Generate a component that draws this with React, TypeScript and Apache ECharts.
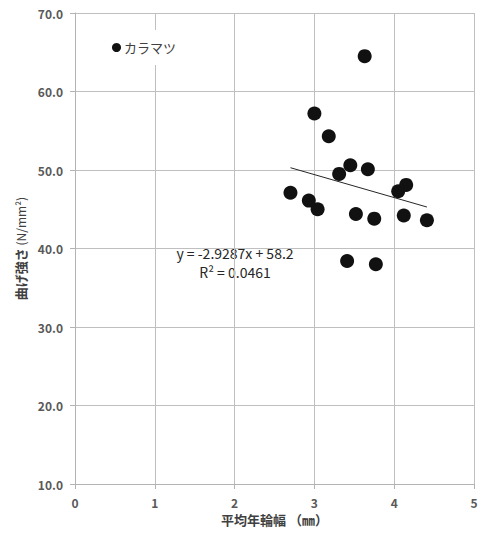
import React, { useEffect, useRef } from "react";
import * as echarts from "echarts";

// 平均年輪幅 (mm) と 曲げ強さ (N/mm²) — カラマツ
const ringWidth = [3.63, 3.0, 3.18, 3.45, 3.67, 3.31, 2.7, 2.93, 3.04, 4.15, 4.05, 3.52, 3.75, 4.12, 4.41, 3.41, 3.77];
const strength = [64.5, 57.2, 54.3, 50.6, 50.1, 49.5, 47.1, 46.1, 45.0, 48.1, 47.3, 44.4, 43.8, 44.2, 43.6, 38.4, 38.0];

// 線形近似
const slope = -2.9287;
const intercept = 58.2;
const rSquared = 0.0461;

const xTicks = [0, 1, 2, 3, 4, 5];
const yTicks = [10, 20, 30, 40, 50, 60, 70];

const FONT = "'Noto Sans CJK JP', 'Noto Sans', sans-serif";

export default function App() {
  const ref = useRef<HTMLDivElement>(null);

  useEffect(() => {
    document.body.style.margin = "0";
    const chart = echarts.init(ref.current!, null, { renderer: "svg" });

    const points = ringWidth.map((x, i) => [x, strength[i]]);
    const xMin = Math.min(...ringWidth);
    const xMax = Math.max(...ringWidth);
    const trend = [
      [xMin, slope * xMin + intercept],
      [xMax, slope * xMax + intercept],
    ];

    chart.setOption({
      animation: false,
      backgroundColor: "#ffffff",
      textStyle: { fontFamily: FONT },
      grid: { left: 75, right: 7, top: 13, bottom: 49, outerBoundsMode: "none", containLabel: false },
      legend: {
        data: [{ name: "カラマツ", icon: "circle" }],
        left: 104,
        top: 30,
        itemWidth: 9,
        itemHeight: 9,
        itemGap: 4,
        padding: [11, 8, 11, 8],
        backgroundColor: "#ffffff",
        textStyle: { fontFamily: FONT, fontSize: 13, color: "#404040", padding: [0, 0, 0, -2] },
      },
      xAxis: {
        type: "value",
        min: xTicks[0],
        max: xTicks[xTicks.length - 1],
        interval: 1,
        name: "平均年輪幅 （㎜）",
        nameLocation: "middle",
        nameGap: 29,
        nameTextStyle: { fontFamily: FONT, fontSize: 13, fontWeight: "bold", color: "#404040" },
        axisLine: { show: true, lineStyle: { color: "#b3b3b3", width: 1 } },
        axisTick: { show: true, inside: false, length: 5, lineStyle: { color: "#b3b3b3" } },
        axisLabel: { fontFamily: FONT, fontSize: 12, fontWeight: "bold", color: "#595959", margin: 12 },
        splitLine: { show: true, lineStyle: { color: "#bfbfbf", width: 1 } },
      },
      yAxis: {
        type: "value",
        min: yTicks[0],
        max: yTicks[yTicks.length - 1],
        interval: 10,
        name: "{b|曲げ強さ} {n|(N/mm²)}",
        nameLocation: "middle",
        nameGap: 40,
        nameRotate: 90,
        nameTextStyle: {
          fontFamily: FONT,
          color: "#404040",
          rich: {
            b: { fontFamily: FONT, fontSize: 13, fontWeight: "bold", color: "#404040" },
            n: { fontFamily: FONT, fontSize: 12, color: "#404040" },
          },
        },
        axisLine: { show: true, lineStyle: { color: "#b3b3b3", width: 1 } },
        axisTick: { show: true, inside: false, length: 5, lineStyle: { color: "#b3b3b3" } },
        axisLabel: {
          fontFamily: FONT,
          fontSize: 12,
          fontWeight: "bold",
          color: "#595959",
          margin: 12,
          formatter: (v: number) => v.toFixed(1),
        },
        splitLine: { show: true, lineStyle: { color: "#bfbfbf", width: 1 } },
      },
      series: [
        {
          name: "カラマツ",
          type: "scatter",
          data: points,
          symbol: "circle",
          symbolSize: 14,
          itemStyle: { color: "#111111", opacity: 1 },
          z: 3,
        },
        {
          name: "近似",
          type: "line",
          data: trend,
          symbol: "none",
          lineStyle: { color: "#262626", width: 1 },
          z: 2,
        },
      ],
      graphic: [
        {
          type: "text",
          x: 235,
          y: 253,
          style: {
            text: `y = ${slope}x + ${intercept}`,
            fontFamily: FONT,
            fontSize: 14,
            fill: "#262626",
            align: "center",
            verticalAlign: "middle",
          },
        },
        {
          type: "text",
          x: 235,
          y: 272,
          style: {
            text: `R² = ${rSquared}`,
            fontFamily: FONT,
            fontSize: 14,
            fill: "#262626",
            align: "center",
            verticalAlign: "middle",
          },
        },
      ],
    });

    return () => chart.dispose();
  }, []);

  return <div ref={ref} style={{ width: 481, height: 533 }} />;
}
